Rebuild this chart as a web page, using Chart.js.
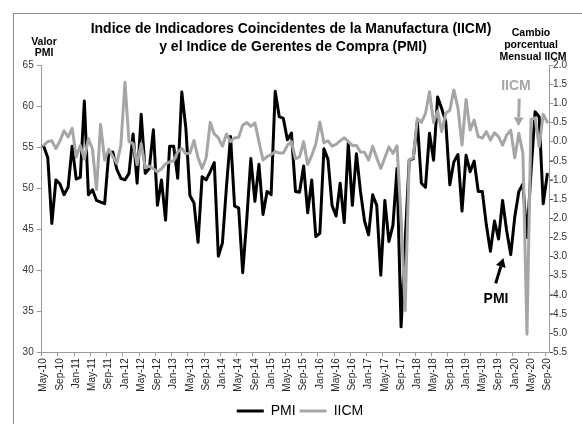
<!DOCTYPE html>
<html><head><meta charset="utf-8">
<script src="https://cdn.jsdelivr.net/npm/chart.js@4/dist/chart.umd.min.js"></script>
<style>
html,body{margin:0;padding:0;background:#fff;}
#wrap{position:relative;width:582px;height:424px;overflow:hidden;font-family:"Liberation Sans",Arial,sans-serif;}
#frame{position:absolute;left:13px;top:13px;width:700px;height:500px;border-left:1px solid #8c8c8c;border-top:1px solid #8c8c8c;}
#c{position:absolute;left:0;top:0;}
.t{position:absolute;white-space:nowrap;font-weight:bold;transform:translate(-50%,-50%);line-height:1;color:#000;}
</style></head><body>
<div id="wrap">
<div id="frame"></div>
<canvas id="c" width="582" height="424"></canvas>
<div class="t" style="left:291px;top:28px;font-size:14px;">Indice de Indicadores Coincidentes de la Manufactura (IICM)</div>
<div class="t" style="left:293px;top:46px;font-size:14px;">y el Indice de Gerentes de Compra (PMI)</div>
<div class="t" style="left:44px;top:41px;font-size:10.5px;">Valor</div>
<div class="t" style="left:44px;top:52px;font-size:10.5px;">PMI</div>
<div class="t" style="left:531px;top:32px;font-size:10.5px;">Cambio</div>
<div class="t" style="left:531px;top:44px;font-size:10.5px;">porcentual</div>
<div class="t" style="left:533px;top:56px;font-size:10.5px;">Mensual IICM</div>
<div class="t" style="left:516px;top:85px;font-size:14px;color:#a6a6a6;">IICM</div>
<div class="t" style="left:496px;top:298px;font-size:14px;">PMI</div>
</div>
<script>
const months = [
'May-10','Jun-10','Jul-10','Aug-10','Sep-10','Oct-10','Nov-10','Dec-10',
'Jan-11','Feb-11','Mar-11','Apr-11','May-11','Jun-11','Jul-11','Aug-11','Sep-11','Oct-11','Nov-11','Dec-11',
'Jan-12','Feb-12','Mar-12','Apr-12','May-12','Jun-12','Jul-12','Aug-12','Sep-12','Oct-12','Nov-12','Dec-12',
'Jan-13','Feb-13','Mar-13','Apr-13','May-13','Jun-13','Jul-13','Aug-13','Sep-13','Oct-13','Nov-13','Dec-13',
'Jan-14','Feb-14','Mar-14','Apr-14','May-14','Jun-14','Jul-14','Aug-14','Sep-14','Oct-14','Nov-14','Dec-14',
'Jan-15','Feb-15','Mar-15','Apr-15','May-15','Jun-15','Jul-15','Aug-15','Sep-15','Oct-15','Nov-15','Dec-15',
'Jan-16','Feb-16','Mar-16','Apr-16','May-16','Jun-16','Jul-16','Aug-16','Sep-16','Oct-16','Nov-16','Dec-16',
'Jan-17','Feb-17','Mar-17','Apr-17','May-17','Jun-17','Jul-17','Aug-17','Sep-17','Oct-17','Nov-17','Dec-17',
'Jan-18','Feb-18','Mar-18','Apr-18','May-18','Jun-18','Jul-18','Aug-18','Sep-18','Oct-18','Nov-18','Dec-18',
'Jan-19','Feb-19','Mar-19','Apr-19','May-19','Jun-19','Jul-19','Aug-19','Sep-19','Oct-19','Nov-19','Dec-19',
'Jan-20','Feb-20','Mar-20','Apr-20','May-20','Jun-20','Jul-20','Aug-20','Sep-20'];

const pmi = [55.1,53.7,45.7,51.0,50.5,49.2,50.1,55.1,51.1,51.3,
60.6,49.2,49.8,48.5,48.3,48.1,54.2,54.4,52.3,51.2,
51.0,51.8,56.6,50.6,59.0,51.8,52.4,57.1,47.9,51.0,
46.1,55.1,55.1,51.2,61.7,57.3,49.1,48.2,43.4,51.4,
51.0,52.0,53.1,41.7,43.3,50.2,56.3,47.8,47.6,39.7,
46.2,53.6,48.4,52.9,46.8,49.6,49.2,61.8,58.7,58.5,
55.9,56.7,49.6,49.5,52.7,47.0,51.0,44.1,44.5,54.8,
53.5,47.9,46.6,50.6,45.8,55.5,47.9,54.2,49.6,46.0,
44.3,49.2,47.9,39.4,48.5,43.5,45.5,52.4,33.1,43.5,
53.4,53.6,58.1,50.6,50.1,56.7,53.4,61.1,59.7,58.1,
50.4,53.2,54.1,47.2,54.0,52.0,53.3,49.6,49.6,45.5,
42.3,46.0,43.8,48.5,44.8,41.9,46.5,49.6,50.5,44.0,
52.0,59.3,58.7,48.1,51.7];

const iicm = [-0.09,0.0,0.02,-0.18,0.02,0.28,0.12,0.35,-0.40,-0.10,
-0.45,0.08,-0.20,-1.25,0.45,-0.48,-0.20,-0.39,-0.57,-0.09,
1.55,0.0,-0.05,-0.60,-0.05,-0.68,-0.64,-0.71,-0.79,-0.71,
-0.58,-0.53,-0.50,-0.27,-0.18,-0.32,-0.30,0.03,-0.42,-0.70,
-0.42,0.50,0.20,0.10,-0.12,0.20,0.0,0.10,0.11,0.43,
0.50,0.40,0.49,0.0,-0.48,-0.39,-0.34,-0.26,-0.30,-0.30,
-0.10,0.0,-0.45,-0.40,0.0,-0.60,-0.36,-0.06,0.51,-0.03,
0.02,-0.12,-0.07,0.02,0.10,0.0,-0.10,-0.10,-0.27,-0.28,
-0.48,-0.12,-0.42,-0.70,-0.42,-0.14,-0.31,-0.11,-2.0,-4.41,
-0.48,-0.42,0.60,0.50,0.73,1.30,0.50,0.80,0.26,0.74,
0.82,1.35,0.88,-0.09,1.10,0.30,0.56,0.13,0.09,0.26,
0.04,0.23,0.13,-0.09,0.17,0.30,-0.42,0.22,-0.31,-5.03,
0.58,0.62,-0.13,0.71,0.51];

const pmiAxisTicks = {min:30, max:65, step:5};
const iicmAxisTicks = {min:-5.5, max:2.0, step:0.5};

// annotation arrows in data coordinates: [category index, axis value]
const iicmArrow = {from:[117.1, 1.12], to:[116.9, 0.40]};
const pmiArrow = {from:[111.3, 38.4], to:[113.2, 41.5]};

const BLACK = '#000000';
const GRAY = '#a6a6a6';
const AXIS = '#9a9a9a';

Chart.defaults.font.family = "'Liberation Sans', Arial, sans-serif";

function drawArrow(ctx, x1, y1, x2, y2, color) {
  const ang = Math.atan2(y2 - y1, x2 - x1);
  const head = 9, half = 5;
  const bx = x2 - head * Math.cos(ang), by = y2 - head * Math.sin(ang);
  ctx.save();
  ctx.strokeStyle = color; ctx.fillStyle = color; ctx.lineWidth = 3; ctx.lineCap = 'butt';
  ctx.beginPath(); ctx.moveTo(x1, y1); ctx.lineTo(bx, by); ctx.stroke();
  ctx.beginPath();
  ctx.moveTo(x2, y2);
  ctx.lineTo(bx + half * Math.sin(ang), by - half * Math.cos(ang));
  ctx.lineTo(bx - half * Math.sin(ang), by + half * Math.cos(ang));
  ctx.closePath(); ctx.fill();
  ctx.restore();
}

const arrowPlugin = {
  id: 'arrows',
  afterDatasetsDraw(chart) {
    const {ctx, scales} = chart;
    const x = scales.x, y = scales.y, y1 = scales.y1;
    drawArrow(ctx, x.getPixelForValue(iicmArrow.from[0]), y1.getPixelForValue(iicmArrow.from[1]),
                   x.getPixelForValue(iicmArrow.to[0]), y1.getPixelForValue(iicmArrow.to[1]), GRAY);
    drawArrow(ctx, x.getPixelForValue(pmiArrow.from[0]), y.getPixelForValue(pmiArrow.from[1]),
                   x.getPixelForValue(pmiArrow.to[0]), y.getPixelForValue(pmiArrow.to[1]), BLACK);
  }
};

const LEGEND_CENTER_X = 300;
const legendShift = {
  id: 'legendShift',
  afterLayout(chart) {
    const lg = chart.legend;
    if (!lg) return;
    const dx = LEGEND_CENTER_X - (lg.left + lg.right) / 2;
    lg.left += dx; lg.right += dx;
  }
};

new Chart(document.getElementById('c'), {
  type: 'line',
  data: {
    labels: months,
    datasets: [
      {label:'PMI', data:pmi, yAxisID:'y', borderColor:BLACK, backgroundColor:BLACK, borderWidth:3,
       pointRadius:0, tension:0, borderJoinStyle:'round', borderCapStyle:'round', order:1},
      {label:'IICM', data:iicm, yAxisID:'y1', borderColor:GRAY, backgroundColor:GRAY, borderWidth:3,
       pointRadius:0, tension:0, borderJoinStyle:'round', borderCapStyle:'round', order:0}
    ]
  },
  options: {
    responsive:false, devicePixelRatio:1, animation:false,
    layout:{padding:{top:65, left:0, right:15, bottom:2}},
    plugins:{
      tooltip:{enabled:false},
      title:{display:false},
      legend:{
        position:'bottom', maxHeight:22,
        labels:{
          boxWidth:27, boxHeight:3, padding:4, color:'#000', font:{size:14},
          sort:(a,b)=>a.datasetIndex-b.datasetIndex,
          generateLabels:(chart)=>Chart.defaults.plugins.legend.labels.generateLabels(chart).map(it=>{
            it.lineWidth = 0; it.fillStyle = it.strokeStyle; return it;})
        }
      }
    },
    scales:{
      x:{
        type:'category', offset:true,
        grid:{offset:true, drawOnChartArea:false, drawTicks:true, tickLength:4,
              color:(c)=> (c.index % 4 === 0 ? AXIS : 'rgba(0,0,0,0)')},
        border:{display:true, color:AXIS, width:1},
        ticks:{autoSkip:false, minRotation:90, maxRotation:90, padding:2, color:'#222',
               font:{size:10}, callback:(v,i)=> (i % 4 === 0 ? months[i] : '')},
        afterFit:(s)=>{ s.height = 47.7; }
      },
      y:{
        position:'left', min:pmiAxisTicks.min, max:pmiAxisTicks.max,
        ticks:{stepSize:pmiAxisTicks.step, color:'#333', font:{size:10}, padding:3},
        grid:{drawOnChartArea:false, drawTicks:true, tickLength:5, color:AXIS},
        border:{display:true, color:AXIS},
        afterFit:(s)=>{ s.width = 41.7; }
      },
      y1:{
        position:'right', min:iicmAxisTicks.min, max:iicmAxisTicks.max,
        ticks:{stepSize:iicmAxisTicks.step, color:'#333', font:{size:10}, padding:2, crossAlign:'far',
               callback:(v)=> (Math.abs(v) < 1e-9 ? '0.0' : Number(v).toFixed(1))},
        grid:{drawOnChartArea:false, drawTicks:true, tickLength:4, color:AXIS},
        border:{display:true, color:AXIS},
        afterFit:(s)=>{ s.width = 17.7; }
      }
    }
  },
  plugins:[arrowPlugin, legendShift]
});
</script>
</body></html>
